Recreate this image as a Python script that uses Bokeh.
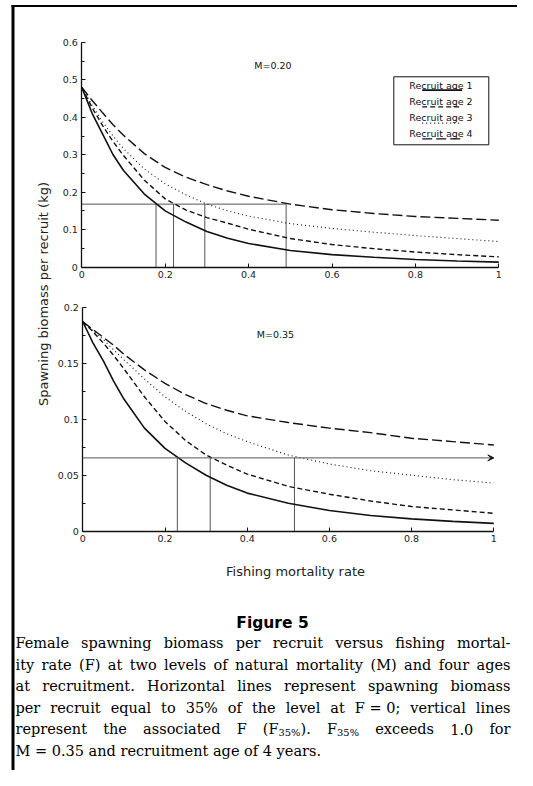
import re
import glob
from bokeh.plotting import figure
from bokeh.models import Range1d, LinearAxis, FixedTicker, Arrow, VeeHead
from bokeh.core.properties import value
from bokeh.embed import file_html
from bokeh.resources import INLINE

# ---------------- data ----------------
F = [0, 0.025, 0.05, 0.075, 0.1, 0.15, 0.2, 0.25, 0.3, 0.35, 0.4, 0.5, 0.6, 0.7, 0.8, 0.9, 1.0]

# M = 0.20
m020_age1 = [0.48, 0.41, 0.355, 0.30, 0.258, 0.195, 0.150, 0.12, 0.095, 0.077, 0.063, 0.044, 0.033, 0.026, 0.020, 0.016, 0.013]
m020_age2 = [0.48, 0.425, 0.378, 0.335, 0.298, 0.232, 0.182, 0.152, 0.132, 0.117, 0.101, 0.076, 0.060, 0.049, 0.040, 0.033, 0.027]
m020_age3 = [0.48, 0.432, 0.388, 0.350, 0.316, 0.262, 0.222, 0.193, 0.168, 0.150, 0.136, 0.116, 0.103, 0.093, 0.084, 0.076, 0.068]
m020_age4 = [0.48, 0.445, 0.412, 0.380, 0.352, 0.303, 0.266, 0.240, 0.220, 0.203, 0.189, 0.168, 0.153, 0.143, 0.135, 0.130, 0.125]
m020_f35 = [0.178, 0.22, 0.295, 0.49]

# M = 0.35
m035_age1 = [0.187, 0.168, 0.152, 0.134, 0.118, 0.092, 0.074, 0.061, 0.050, 0.041, 0.034, 0.025, 0.0185, 0.014, 0.011, 0.0088, 0.007]
m035_age2 = [0.187, 0.178, 0.168, 0.157, 0.145, 0.120, 0.098, 0.081, 0.068, 0.059, 0.051, 0.040, 0.033, 0.027, 0.022, 0.019, 0.016]
m035_age3 = [0.187, 0.179, 0.171, 0.162, 0.153, 0.136, 0.120, 0.107, 0.096, 0.087, 0.080, 0.068, 0.060, 0.054, 0.050, 0.046, 0.043]
m035_age4 = [0.187, 0.180, 0.173, 0.166, 0.158, 0.144, 0.132, 0.122, 0.114, 0.108, 0.103, 0.097, 0.092, 0.088, 0.083, 0.080, 0.077]
m035_f35 = [0.23, 0.31, 0.515]

ratio35 = 0.35

x_ticks = [0, 0.2, 0.4, 0.6, 0.8, 1.0]
x_tick_labels = ["0", "0.2", "0.4", "0.6", "0.8", "1"]
top_y_ticks = [0, 0.1, 0.2, 0.3, 0.4, 0.5, 0.6]
top_y_labels = ["0", "0.1", "0.2", "0.3", "0.4", "0.5", "0.6"]
top_y_minor = [0.05, 0.15, 0.25, 0.35, 0.45, 0.55]
bot_y_ticks = [0, 0.05, 0.1, 0.15, 0.2]
bot_y_labels = ["0", "0.05", "0.1", "0.15", "0.2"]
bot_y_minor = [0.025, 0.075, 0.125, 0.175]

legend_labels = ["Recruit age 1", "Recruit age 2", "Recruit age 3", "Recruit age 4"]
panel_titles = ["M=0.20", "M=0.35"]
x_title = "Fishing mortality rate"
y_title = "Spawning biomass per recruit (kg)"
fig_title = "Figure 5"
caption_lines = [
    "Female spawning biomass per recruit versus fishing mortal-",
    "ity rate (F) at two levels of natural mortality (M) and four ages",
    "at recruitment. Horizontal lines represent spawning biomass",
    "per recruit equal to 35% of the level at F\u00a0=\u00a00; vertical lines",
    "represent the associated F (F_35%_). F_35%_ exceeds 1.0 for",
    "M = 0.35 and recruitment age of 4 years.",
]

# ---------------- styles / layout ----------------
W, H = 517, 770
dashes = ["solid", "5 3", "1 3", "10 4"]
widths = [1.6, 1.4, 1.1, 1.4]
INK = "#111111"
GUIDE = "#555555"
SANS = "DejaVu Sans"
SERIF = "DejaVu Serif"
BL = 0.3  # baseline correction (em)

# panel geometry in canvas pixels (y measured from top)
TOP = dict(x0=81.3, ppx=417.0, y0=266.5, ppy=374.2)
BOT = dict(x0=82.3, ppx=411.0, y0=530.7, ppy=1120.0)

p = figure(width=W, height=H, x_range=Range1d(0, W), y_range=Range1d(H, 0),
           output_backend="svg", toolbar_location=None,
           x_axis_location=None, y_axis_location=None, min_border=0,
           outline_line_color=None, background_fill_color="white",
           border_fill_color="white")
p.grid.visible = False

p.extra_x_ranges = {
    "Ft": Range1d(-TOP["x0"] / TOP["ppx"], (W - TOP["x0"]) / TOP["ppx"]),
    "Fb": Range1d(-BOT["x0"] / BOT["ppx"], (W - BOT["x0"]) / BOT["ppx"]),
}
p.extra_y_ranges = {
    "top": Range1d((TOP["y0"] - H) / TOP["ppy"], TOP["y0"] / TOP["ppy"]),
    "bot": Range1d((BOT["y0"] - H) / BOT["ppy"], BOT["y0"] / BOT["ppy"]),
}


def style_axis(ax):
    ax.axis_line_color = INK
    ax.axis_line_width = 1.3
    ax.major_tick_line_color = INK
    ax.minor_tick_line_color = INK
    ax.major_tick_in = 4
    ax.major_tick_out = 0
    ax.minor_tick_in = 3
    ax.minor_tick_out = 0
    ax.major_label_standoff = 4
    ax.major_label_text_font = SANS
    ax.major_label_text_font_size = "9.5px"
    ax.major_label_text_color = "#222222"


def add_axes(xr, yr, yticks, ylabels, yminor):
    xa = LinearAxis(x_range_name=xr, y_range_name=yr, fixed_location=0,
                    bounds=(x_ticks[0], x_ticks[-1]),
                    ticker=FixedTicker(ticks=x_ticks, minor_ticks=[]),
                    major_label_overrides=dict(zip(x_ticks, x_tick_labels)))
    style_axis(xa)
    p.add_layout(xa, "below")
    ya = LinearAxis(x_range_name=xr, y_range_name=yr, fixed_location=0,
                    bounds=(yticks[0], yticks[-1]),
                    ticker=FixedTicker(ticks=yticks, minor_ticks=yminor),
                    major_label_overrides=dict(zip(yticks, ylabels)))
    style_axis(ya)
    p.add_layout(ya, "left")


add_axes("Ft", "top", top_y_ticks, top_y_labels, top_y_minor)
add_axes("Fb", "bot", bot_y_ticks, bot_y_labels, bot_y_minor)

# ---- F35% guide lines ----
h_top = ratio35 * m020_age1[0]
p.segment(x0=[0], y0=[h_top], x1=[max(m020_f35)], y1=[h_top], x_range_name="Ft",
          y_range_name="top", line_color=GUIDE, line_width=1)
p.segment(x0=m020_f35, y0=[0] * len(m020_f35), x1=m020_f35, y1=[h_top] * len(m020_f35),
          x_range_name="Ft", y_range_name="top", line_color=GUIDE, line_width=1)

h_bot = ratio35 * m035_age1[0]
p.segment(x0=m035_f35, y0=[0] * len(m035_f35), x1=m035_f35, y1=[h_bot] * len(m035_f35),
          x_range_name="Fb", y_range_name="bot", line_color=GUIDE, line_width=1)
p.add_layout(Arrow(end=VeeHead(size=6, fill_color=INK, line_color=INK, line_width=1),
                   x_start=0, y_start=h_bot, x_end=F[-1], y_end=h_bot,
                   x_range_name="Fb", y_range_name="bot",
                   line_color=GUIDE, line_width=1))

# ---- curves ----
for ys, d, w in zip([m020_age1, m020_age2, m020_age3, m020_age4], dashes, widths):
    p.line(F, ys, x_range_name="Ft", y_range_name="top", line_color=INK,
           line_width=w, line_dash=d)
for ys, d, w in zip([m035_age1, m035_age2, m035_age3, m035_age4], dashes, widths):
    p.line(F, ys, x_range_name="Fb", y_range_name="bot", line_color=INK,
           line_width=w, line_dash=d)

# ---- legend (drawn in canvas pixels) ----
p.quad(left=[393.3], right=[488.3], top=[76.3], bottom=[144.3],
       fill_color="white", line_color=INK, line_width=1)
LEG = 9.5
leg_base = [y - BL * LEG for y in (87.5, 103.5, 119.5, 135.5)]
leg_line = [89.6, 106.4, 122.6, 138.4]
p.text(x=[440.5] * 4, y=leg_base, text=legend_labels, text_font=value(SANS),
       text_font_size=f"{LEG}px", text_align="center", text_baseline="alphabetic",
       text_color=INK)
for yy, d, w in zip(leg_line, dashes, widths):
    p.line([421.7, 461.7], [yy, yy], line_color=INK, line_width=w, line_dash=d)

# ---- panel titles, axis titles ----
p.text(x=[272.5, 275], y=[68.3 - BL * 9.5, 337.3 - BL * 9.5], text=panel_titles,
       text_font=value(SANS), text_font_size="9.5px", text_align="center",
       text_baseline="alphabetic", text_color=INK)
p.text(x=[295], y=[575 - BL * 13], text=[x_title], text_font=value(SANS),
       text_font_size="13px", text_align="center", text_baseline="alphabetic",
       text_color="#222222")
p.text(x=[43], y=[293.5], text=[y_title], text_font=value(SANS),
       text_font_size="13px", text_align="center", text_baseline="middle",
       angle=[1.5707963], text_color="#222222")

# ---- frame lines ----
p.line([12.5, 12.5], [4.5, H], line_color="black", line_width=3)
p.line([11, W], [5.5, 5.5], line_color="black", line_width=2)

# ---- caption ----
p.text(x=[272], y=[627.3 - BL * 15.5], text=[fig_title], text_font=value(SANS),
       text_font_size="15.5px", text_font_style="bold", text_align="center",
       text_baseline="alphabetic", text_color="black")

font_path = None
for pat in ["/usr/share/fonts/**/DejaVuSerif.ttf", "/usr/local/share/fonts/**/DejaVuSerif.ttf"]:
    hits = glob.glob(pat, recursive=True)
    if hits:
        font_path = hits[0]
        break
_font_cache = {}


def measure(text, size):
    if font_path:
        try:
            from PIL import ImageFont
            key = int(round(size * 10))
            if key not in _font_cache:
                _font_cache[key] = ImageFont.truetype(font_path, key)
            return _font_cache[key].getlength(text) / 10.0
        except Exception:
            pass
    return 0.57 * size * len(text)


def parse_token(tok):
    parts = re.split(r"_(.+?)_", tok)
    return [(part.replace("\u00a0", " "), i % 2 == 1) for i, part in enumerate(parts) if part]


X_L, X_R = 15.0, 510.0
baselines = [647.0, 668.5, 690.0, 711.5, 733.0, 754.5]
nat = []
for line in caption_lines:
    toks = [parse_token(t) for t in line.split(" ")]
    nat.append(sum(measure(s, 10 * (0.68 if sb else 1)) for tk in toks for s, sb in tk)
               + measure(" ", 10) * (len(toks) - 1))
CAP = min(14.5, 10 * (X_R - X_L) / (max(nat) * 1.01))
SUB = CAP * 0.68

nx, ny, nt, sx, sy, st = [], [], [], [], [], []
for li, (line, yb) in enumerate(zip(caption_lines, baselines)):
    yb = yb - BL * CAP
    toks = [parse_token(t) for t in line.split(" ")]
    wid = [sum(measure(s, SUB if sb else CAP) for s, sb in tk) for tk in toks]
    last = li == len(caption_lines) - 1
    gap = measure(" ", CAP) if last else (X_R - X_L - sum(wid)) / (len(toks) - 1)
    x = X_L
    for tk, w in zip(toks, wid):
        cx = x
        for s, sb in tk:
            if sb:
                sx.append(cx); sy.append(yb + 3.2); st.append(s)
            else:
                nx.append(cx); ny.append(yb); nt.append(s)
            cx += measure(s, SUB if sb else CAP)
        x += w + gap

p.text(x=nx, y=ny, text=nt, text_font=value(SERIF), text_font_size=f"{CAP:.2f}px",
       text_align="left", text_baseline="alphabetic", text_color="black")
p.text(x=sx, y=sy, text=st, text_font=value(SERIF), text_font_size=f"{SUB:.2f}px",
       text_align="left", text_baseline="alphabetic", text_color="black")

open("out.html", "w").write(file_html(p, INLINE))
